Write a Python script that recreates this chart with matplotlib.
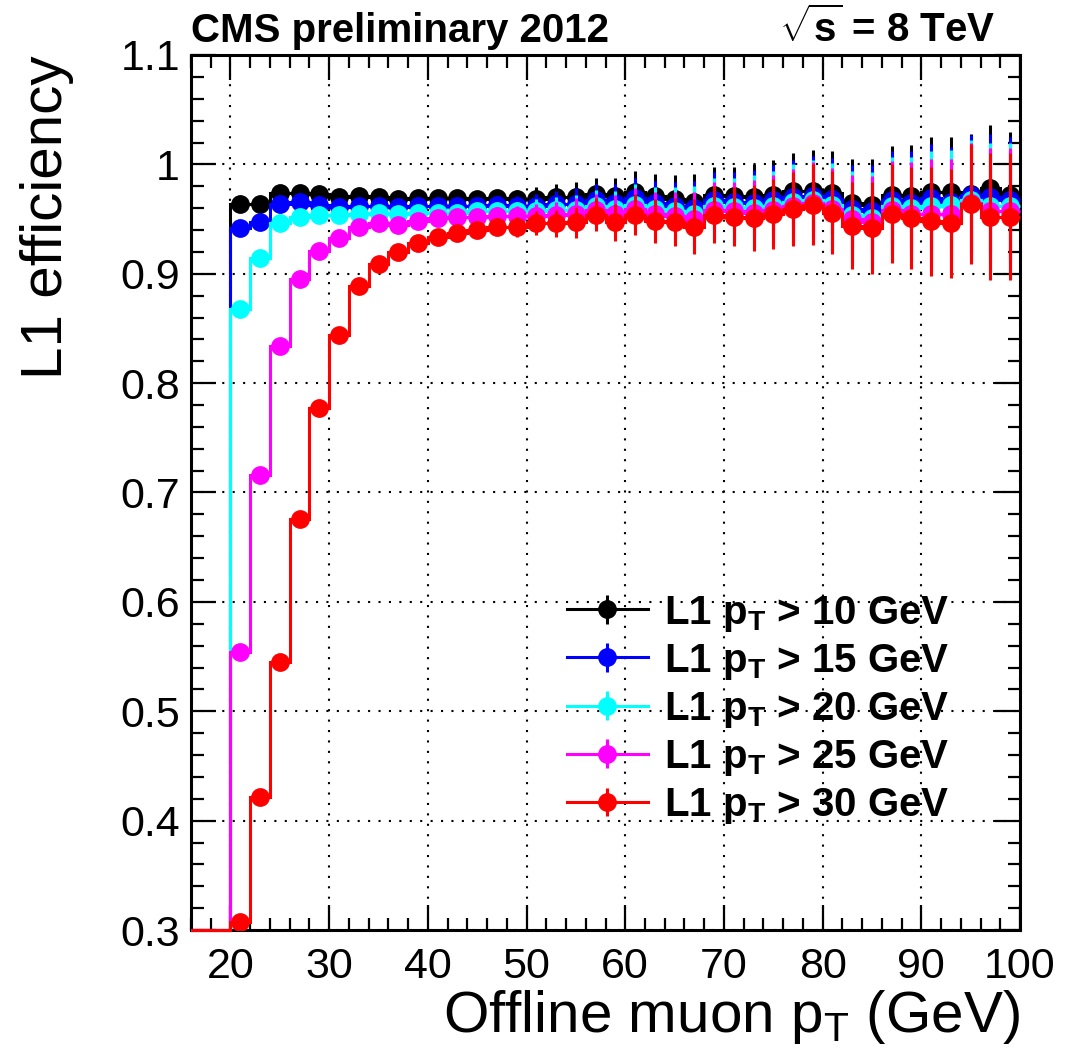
import matplotlib
matplotlib.use('Agg')
import matplotlib.pyplot as plt
from matplotlib.lines import Line2D
from matplotlib.legend_handler import HandlerErrorbar, HandlerTuple
from matplotlib.container import ErrorbarContainer
from matplotlib.ticker import MultipleLocator, FuncFormatter

plt.rcParams['font.family'] = ['Liberation Sans', 'DejaVu Sans']
plt.rcParams['mathtext.fontset'] = 'custom'
plt.rcParams['mathtext.rm'] = 'Liberation Sans'
plt.rcParams['mathtext.it'] = 'Liberation Sans:italic'
plt.rcParams['mathtext.bf'] = 'Liberation Sans:bold'

# Offline muon pT bins (2 GeV wide), first two bins are empty
pt_edges = list(range(16, 102, 2))
pt_centers = [e + 1 for e in pt_edges[:-1]]

eff_10 = [0.0, 0.0,
          0.964, 0.964, 0.974, 0.974, 0.973, 0.970, 0.971, 0.970, 0.968, 0.969,
          0.969, 0.969, 0.968, 0.969, 0.968, 0.968, 0.970, 0.970, 0.973, 0.971,
          0.975, 0.971, 0.968, 0.966, 0.972, 0.971, 0.970, 0.972, 0.976, 0.976,
          0.974, 0.965, 0.963, 0.972, 0.971, 0.975, 0.975, 0.973, 0.978, 0.972]
eff_15 = [0.0, 0.0,
          0.942, 0.947, 0.964, 0.966, 0.963, 0.961, 0.962, 0.962, 0.961, 0.962,
          0.962, 0.962, 0.962, 0.963, 0.962, 0.962, 0.964, 0.964, 0.967, 0.965,
          0.969, 0.965, 0.962, 0.960, 0.967, 0.966, 0.965, 0.967, 0.970, 0.971,
          0.968, 0.959, 0.957, 0.967, 0.965, 0.969, 0.966, 0.972, 0.970, 0.967]
eff_20 = [0.0, 0.0,
          0.868, 0.914, 0.946, 0.952, 0.954, 0.954, 0.955, 0.956, 0.955, 0.956,
          0.956, 0.956, 0.957, 0.957, 0.957, 0.957, 0.958, 0.958, 0.962, 0.959,
          0.963, 0.959, 0.957, 0.955, 0.962, 0.961, 0.960, 0.962, 0.966, 0.967,
          0.963, 0.954, 0.951, 0.962, 0.960, 0.962, 0.963, 0.967, 0.962, 0.962]
eff_25 = [0.0, 0.0,
          0.554, 0.716, 0.834, 0.895, 0.921, 0.933, 0.943, 0.946, 0.945, 0.948,
          0.951, 0.952, 0.952, 0.953, 0.953, 0.953, 0.954, 0.955, 0.958, 0.955,
          0.959, 0.955, 0.953, 0.950, 0.958, 0.957, 0.956, 0.958, 0.962, 0.965,
          0.959, 0.950, 0.947, 0.958, 0.955, 0.955, 0.955, 0.965, 0.957, 0.957]
eff_30 = [0.0, 0.0,
          0.307, 0.422, 0.545, 0.676, 0.777, 0.844, 0.889, 0.909, 0.920, 0.928,
          0.934, 0.937, 0.940, 0.943, 0.943, 0.946, 0.946, 0.947, 0.954, 0.947,
          0.954, 0.948, 0.947, 0.943, 0.954, 0.952, 0.951, 0.955, 0.959, 0.963,
          0.956, 0.944, 0.942, 0.955, 0.951, 0.948, 0.946, 0.964, 0.952, 0.952]
eff_err = [0.0, 0.0,
           0.005, 0.006, 0.006, 0.005, 0.005, 0.004, 0.004, 0.004, 0.004, 0.004,
           0.005, 0.006, 0.007, 0.008, 0.009, 0.011, 0.012, 0.014, 0.015, 0.017,
           0.019, 0.020, 0.022, 0.025, 0.026, 0.027, 0.030, 0.032, 0.034, 0.037,
           0.038, 0.040, 0.042, 0.045, 0.047, 0.050, 0.050, 0.055, 0.058, 0.058]

labels = [r'L1 $\mathbf{p_{T}}$ > 10 GeV', r'L1 $\mathbf{p_{T}}$ > 15 GeV',
          r'L1 $\mathbf{p_{T}}$ > 20 GeV', r'L1 $\mathbf{p_{T}}$ > 25 GeV',
          r'L1 $\mathbf{p_{T}}$ > 30 GeV']
colors = ['#000000', '#0000ff', '#00ffff', '#ff00ff', '#ff0000']
series = [eff_10, eff_15, eff_20, eff_25, eff_30]

y_min, y_max = 0.3, 1.1

fig = plt.figure(figsize=(10.65, 10.6), dpi=100)
ax = fig.add_axes([191 / 1065, 1 - 930 / 1060, (1020 - 191) / 1065, (930 - 55) / 1060])

handles = []
for i, (eff, col) in enumerate(zip(series, colors)):
    # like ROOT, empty bins are drawn on the lower frame edge
    ax.stairs([max(v, y_min) for v in eff], pt_edges, baseline=None, color=col,
              lw=2.2, zorder=3 + i, clip_on=False)
    eb = ax.errorbar(pt_centers, eff, yerr=eff_err, fmt='o', color=col, ms=12.5,
                     elinewidth=2.2, capsize=0, zorder=3 + i)
    handles.append((Line2D([], [], color=col, lw=2.2), eb))

ax.set_xlim(16, 100)
ax.set_ylim(y_min, y_max)
ax.xaxis.set_major_locator(MultipleLocator(10))
ax.xaxis.set_minor_locator(MultipleLocator(2))
ax.yaxis.set_major_locator(MultipleLocator(0.1))
ax.yaxis.set_minor_locator(MultipleLocator(0.02))
ax.yaxis.set_major_formatter(FuncFormatter(lambda v, p: '%g' % round(v, 2)))
ax.grid(True, which='major', color='black', linestyle=(0, (1, 4)), lw=1.5)
ax.tick_params(which='both', direction='in', top=True, right=True, width=1.6,
               labelsize=31)
ax.tick_params(which='major', length=18)
ax.tick_params(which='minor', length=9)
ax.tick_params(axis='x', pad=12)
ax.tick_params(axis='y', pad=8)
for sp in ax.spines.values():
    sp.set_linewidth(2.2)

fig.text(1020 / 1065, 1 - 1032 / 1060, r'Offline muon p$_{\mathregular{T}}$ (GeV)',
         ha='right', va='baseline', fontsize=42)
fig.text(62 / 1065, 1 - 55 / 1060, 'L1 efficiency', rotation=90,
         rotation_mode='anchor', ha='right', va='baseline', fontsize=42)

fig.text(191 / 1065, 1 - 42 / 1060, 'CMS preliminary 2012', ha='left',
         va='baseline', fontsize=29, fontweight='bold')
fig.text(995 / 1065, 1 - 42 / 1060, r'$\sqrt{\mathbf{s}}$ = 8 TeV', ha='right',
         va='baseline', fontsize=29, fontweight='bold')

leg = ax.legend(handles, labels, loc='upper left', bbox_to_anchor=(0.41, 0.426),
                frameon=False, prop={'size': 29, 'weight': 'bold'},
                handlelength=2.0, handletextpad=0.4, labelspacing=0.2,
                handler_map={tuple: HandlerTuple(ndivide=1),
                             ErrorbarContainer: HandlerErrorbar(xerr_size=0.35)})
leg.set_zorder(20)

fig.savefig('out.png', dpi=100)
